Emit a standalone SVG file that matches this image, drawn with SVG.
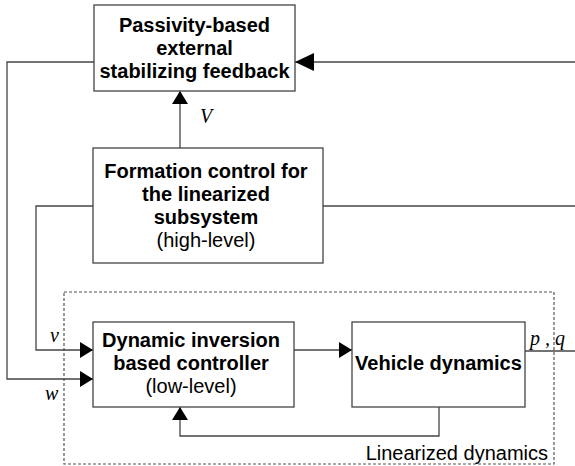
<svg xmlns="http://www.w3.org/2000/svg" width="575" height="466" viewBox="0 0 575 466">
  <defs>
    <style>
      .box { fill: #fff; stroke: #444; stroke-width: 1.3; }
      .wire { fill: none; stroke: #444; stroke-width: 1.3; }
      .frame { fill: none; stroke: #555; stroke-width: 1.2; stroke-dasharray: 3 2; }
      .bold { font-family: "Liberation Sans", Arial, sans-serif; font-weight: bold; font-size: 20px; text-anchor: middle; fill: #000; }
      .plain { font-family: "Liberation Sans", Arial, sans-serif; font-size: 20px; fill: #000; }
      .sym { font-family: "Liberation Serif", "Times New Roman", serif; font-style: italic; font-size: 20px; fill: #000; }
    </style>
    <marker id="arrow" markerUnits="userSpaceOnUse" markerWidth="13" markerHeight="16" refX="13" refY="8" orient="auto">
      <path d="M0,0 L13,8 L0,16 z" fill="#000"/>
    </marker>
    <marker id="arrowBig" markerUnits="userSpaceOnUse" markerWidth="19" markerHeight="18" refX="19" refY="9" orient="auto">
      <path d="M0,0 L19,9 L0,18 z" fill="#000"/>
    </marker>
  </defs>

  <!-- linearized dynamics frame -->
  <g id="linearized-frame">
    <rect class="frame" x="64" y="292" width="490" height="172"/>
    <text class="plain" x="548" y="460" text-anchor="end">Linearized dynamics</text>
  </g>

  <!-- connectors -->
  <g id="connectors">
    <!-- state feedback into the passivity block -->
    <line class="wire" x1="575" y1="62" x2="295" y2="62" marker-end="url(#arrowBig)"/>
    <!-- V from formation control up to passivity block -->
    <line class="wire" x1="180" y1="148" x2="180" y2="91" marker-end="url(#arrow)"/>
    <!-- w: passivity output to the low-level controller -->
    <polyline class="wire" points="94,62 7,62 7,379 93,379" marker-end="url(#arrow)"/>
    <!-- v: formation output to the low-level controller -->
    <polyline class="wire" points="93,206 36,206 36,350 93,350" marker-end="url(#arrow)"/>
    <!-- state feedback into formation control -->
    <line class="wire" x1="323" y1="206" x2="575" y2="206"/>
    <!-- controller to vehicle -->
    <line class="wire" x1="294" y1="350" x2="352" y2="350" marker-end="url(#arrow)"/>
    <!-- inner feedback loop -->
    <polyline class="wire" points="439,407 439,436 180,436 180,407" marker-end="url(#arrow)"/>
    <!-- p, q output -->
    <line class="wire" x1="525" y1="351" x2="575" y2="351"/>
  </g>

  <!-- signal labels -->
  <g id="labels">
    <text class="sym" x="200" y="123">V</text>
    <text class="sym" x="50" y="342">v</text>
    <text class="sym" x="45" y="400">w</text>
    <text class="sym" x="530" y="345">p , q</text>
  </g>

  <g id="passivity-feedback">
    <rect class="box" x="94" y="5" width="201" height="86"/>
    <text class="bold" x="194.5" y="32">Passivity-based</text>
    <text class="bold" x="194.5" y="55">external</text>
    <text class="bold" x="194.5" y="78">stabilizing feedback</text>
  </g>

  <g id="formation-control">
    <rect class="box" x="93" y="148" width="230" height="115"/>
    <text class="bold" x="206" y="178">Formation control for</text>
    <text class="bold" x="206" y="201">the linearized</text>
    <text class="bold" x="206" y="224">subsystem</text>
    <text class="plain" x="206" y="247" text-anchor="middle">(high-level)</text>
  </g>

  <g id="dynamic-inversion">
    <rect class="box" x="93" y="322" width="201" height="85"/>
    <text class="bold" x="191" y="347">Dynamic inversion</text>
    <text class="bold" x="191" y="370">based controller</text>
    <text class="plain" x="191" y="393" text-anchor="middle">(low-level)</text>
  </g>

  <g id="vehicle-dynamics">
    <rect class="box" x="352" y="322" width="173" height="85"/>
    <text class="bold" x="438.5" y="370">Vehicle dynamics</text>
  </g>
</svg>
